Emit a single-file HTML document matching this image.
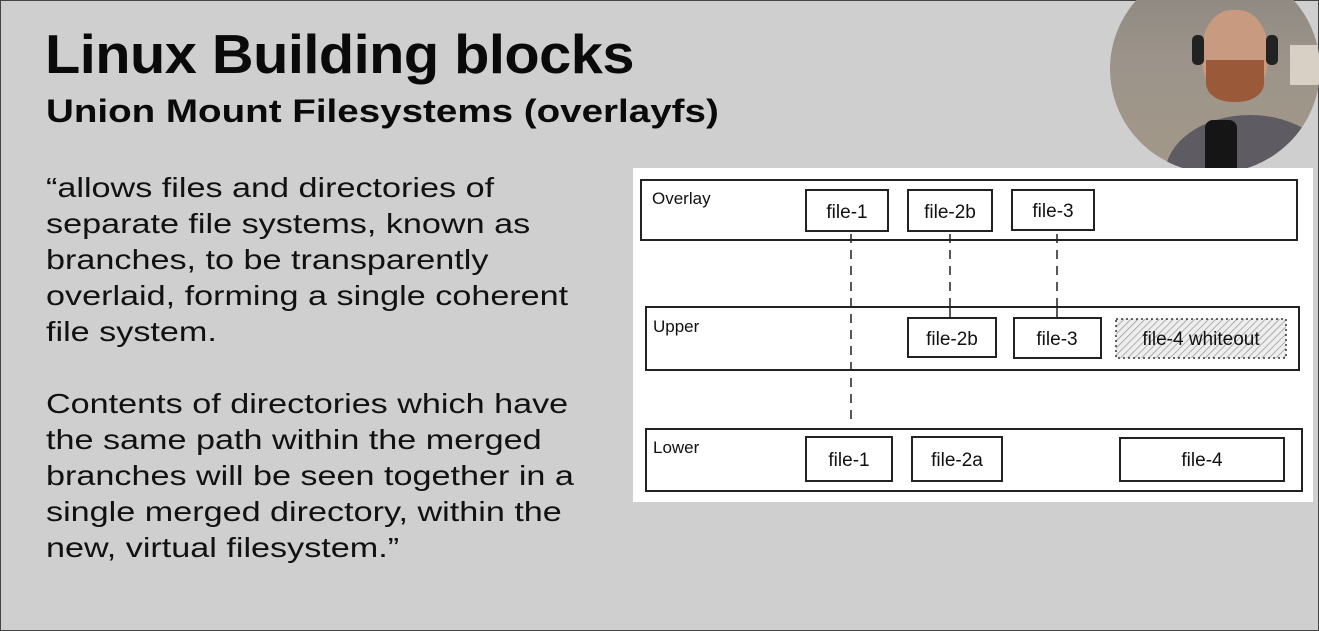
<!DOCTYPE html>
<html><head><meta charset="utf-8"><style>
body{margin:0;width:1319px;height:631px;overflow:hidden;background:#cfcfcf;font-family:"Liberation Sans",sans-serif;position:relative;}
.frame{position:absolute;left:0;top:0;width:1317px;height:629px;border:1px solid #444;}
h1{position:absolute;left:45px;top:22px;margin:0;font-size:55px;font-weight:bold;letter-spacing:-0.5px;color:#0a0a0a;white-space:nowrap;transform-origin:0 0;transform:scaleX(1.05);}
h2{position:absolute;left:46px;top:93px;margin:0;font-size:32px;font-weight:bold;color:#0a0a0a;white-space:nowrap;transform-origin:0 0;transform:scaleX(1.205);}
.p{position:absolute;left:46px;font-size:28px;line-height:36px;color:#111;white-space:nowrap;transform-origin:0 0;transform:scaleX(1.22);}
.cam{position:absolute;left:1110px;top:-35px;width:210px;height:208px;border-radius:50%;overflow:hidden;background:linear-gradient(180deg,#8a8580 0%,#9c948a 45%,#a29888 100%);}
</style></head><body>
<div class="frame"></div>
<h1>Linux Building blocks</h1>
<h2>Union Mount Filesystems (overlayfs)</h2>
<div class="p" style="top:170px">“allows files and directories of<br>separate file systems, known as<br>branches, to be transparently<br>overlaid, forming a single coherent<br>file system.</div>
<div class="p" style="top:386px">Contents of directories which have<br>the same path within the merged<br>branches will be seen together in a<br>single merged directory, within the<br>new, virtual filesystem.”</div>
<div class="cam">
<div style="position:absolute;left:55px;top:150px;width:170px;height:120px;border-radius:50% 50% 0 0;background:#5e5c62"></div>
<div style="position:absolute;left:92px;top:45px;width:66px;height:88px;border-radius:45%;background:#c89a80"></div>
<div style="position:absolute;left:96px;top:95px;width:58px;height:42px;border-radius:0 0 45% 45%;background:#9a5a3a"></div>
<div style="position:absolute;left:82px;top:70px;width:12px;height:30px;border-radius:5px;background:#222"></div>
<div style="position:absolute;left:156px;top:70px;width:12px;height:30px;border-radius:5px;background:#222"></div>
<div style="position:absolute;left:95px;top:155px;width:32px;height:70px;border-radius:8px;background:#151515"></div>
<div style="position:absolute;left:180px;top:80px;width:30px;height:40px;background:#d8d0c4"></div>
</div>
<svg style="position:absolute;left:0;top:0" width="1319" height="631">
<rect x="633" y="168" width="680" height="334" fill="#fff"/>
<g fill="none" stroke="#222" stroke-width="2">
<rect x="641" y="180" width="656" height="60"/>
<rect x="646" y="307" width="653" height="63"/>
<rect x="646" y="429" width="656" height="62"/>
<rect x="806" y="190" width="82" height="41"/>
<rect x="908" y="190" width="84" height="41"/>
<rect x="1012" y="190" width="82" height="40"/>
<rect x="908" y="318" width="88" height="39"/>
<rect x="1014" y="318" width="87" height="40"/>
<rect x="806" y="437" width="86" height="44"/>
<rect x="912" y="437" width="90" height="44"/>
<rect x="1120" y="438" width="164" height="43"/>
</g>
<defs><pattern id="h" width="5" height="5" patternUnits="userSpaceOnUse" patternTransform="rotate(45)"><rect width="5" height="5" fill="#eee"/><line x1="0" y1="0" x2="0" y2="5" stroke="#999" stroke-width="1.5"/></pattern></defs>
<rect x="1116" y="319" width="170" height="39" fill="url(#h)" stroke="#333" stroke-width="1.5" stroke-dasharray="2 3"/>
<g stroke="#222" stroke-width="1.5" stroke-dasharray="9 7">
<line x1="851" y1="234" x2="851" y2="425"/>
<line x1="950" y1="234" x2="950" y2="302"/>
<line x1="1057" y1="234" x2="1057" y2="302"/>
</g>
<g stroke="#222" stroke-width="1.5"><line x1="950" y1="302" x2="950" y2="318"/><line x1="1057" y1="302" x2="1057" y2="318"/></g>
<g font-family="Liberation Sans, sans-serif" font-size="19" fill="#111" text-anchor="middle">
<text x="847" y="218">file-1</text><text x="950" y="218">file-2b</text><text x="1053" y="217">file-3</text>
<text x="952" y="345">file-2b</text><text x="1057" y="345">file-3</text><text x="1201" y="345">file-4 whiteout</text>
<text x="849" y="466">file-1</text><text x="957" y="466">file-2a</text><text x="1202" y="466">file-4</text>
</g>
<g font-family="Liberation Sans, sans-serif" font-size="17" fill="#111">
<text x="652" y="204">Overlay</text><text x="653" y="332">Upper</text><text x="653" y="453">Lower</text>
</g>
</svg>
</body></html>
